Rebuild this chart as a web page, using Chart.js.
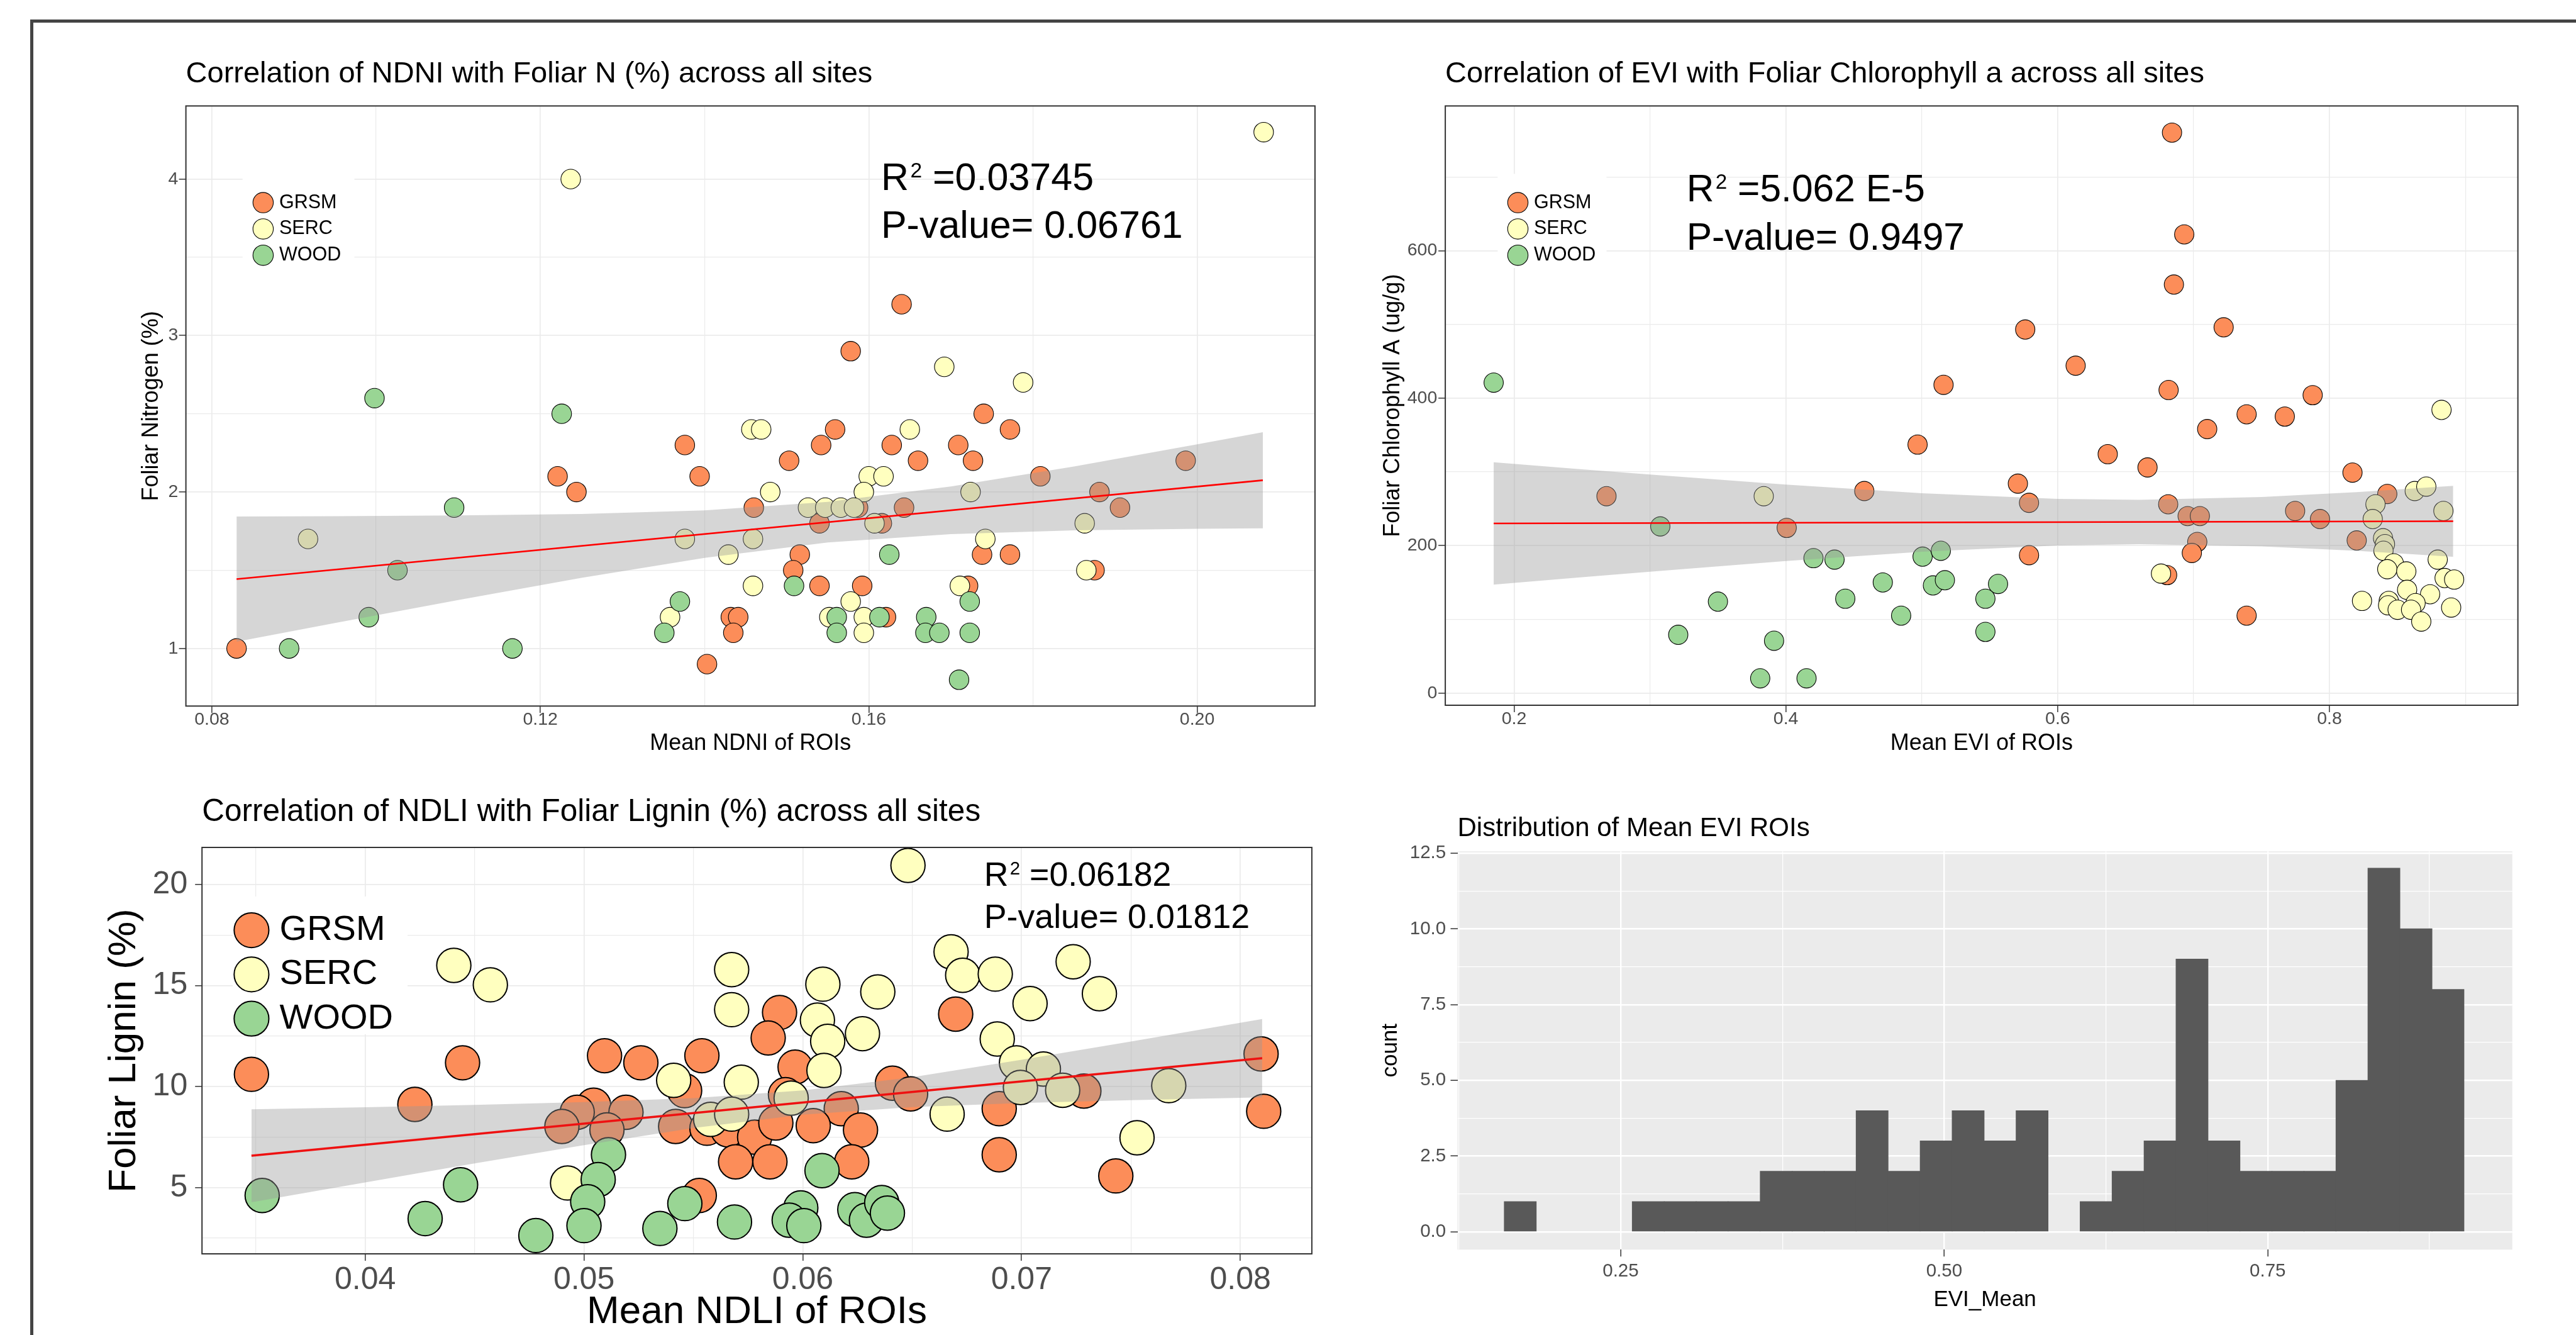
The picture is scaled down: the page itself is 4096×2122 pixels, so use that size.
<!DOCTYPE html>
<html lang="en">
<head>
<meta charset="utf-8">
<title>Foliar traits vs spectral indices</title>
<script src="https://cdn.jsdelivr.net/npm/chart.js@4.4.1/dist/chart.umd.min.js"></script>
<style>
	html, body { margin: 0; padding: 0; background: #fff; overflow: hidden; }
	#page { position: relative; width: 4096px; height: 2122px; overflow: hidden; background: #fff; }
	#frame { position: absolute; left: 48px; top: 31px; width: 4100px; height: 2150px; border-left: 5px solid #444; border-top: 5px solid #444; }
	#page canvas { position: absolute; }
</style>
</head>
<body>
<div id="page">
	<div id="frame"></div>
	<canvas id="ndni_canvas" width="1880" height="1114" style="left:219px;top:90px;width:1880px;height:1114px"></canvas>
	<canvas id="evi_canvas" width="1819" height="1114" style="left:2193px;top:90px;width:1819px;height:1114px"></canvas>
	<canvas id="ndli_canvas" width="1933" height="855" style="left:161px;top:1262px;width:1933px;height:855px"></canvas>
	<canvas id="hist_canvas" width="1813" height="795" style="left:2190px;top:1292px;width:1813px;height:795px"></canvas>
</div>
<script>
const FONT = '"Liberation Sans", Arial, Helvetica, sans-serif';
Chart.defaults.font.family = FONT;

const sites = ['GRSM', 'SERC', 'WOOD'];
const site_colors = ['#FC8D59', '#FFFFBF', '#99D594'];

// NDNI vs foliar N
const ndni_grsm_x = [0.0830, 0.1221, 0.1244, 0.1376, 0.1394, 0.1460, 0.1432, 0.1441, 0.1435, 0.1403, 0.1640, 0.1578, 0.1740, 0.1559, 0.1772, 0.1542, 0.1628, 0.1709, 0.1503, 0.1660, 0.1727, 0.1986, 0.1809, 0.1881, 0.1587, 0.1643, 0.1906, 0.1540, 0.1616, 0.1516, 0.1738, 0.1772, 0.1508, 0.1875, 0.1540, 0.1592, 0.1721, 0.1621];
const ndni_grsm_y = [1.0, 2.1, 2.0, 2.3, 2.1, 1.9, 1.2, 1.2, 1.1, 0.9, 3.2, 2.9, 2.5, 2.4, 2.4, 2.3, 2.3, 2.3, 2.2, 2.2, 2.2, 2.2, 2.1, 2.0, 1.9, 1.9, 1.9, 1.8, 1.8, 1.6, 1.6, 1.6, 1.5, 1.5, 1.4, 1.4, 1.4, 1.2];
const ndni_serc_x = [0.1237, 0.1457, 0.1469, 0.1480, 0.0917, 0.1376, 0.1459, 0.1429, 0.1459, 0.1358, 0.2081, 0.1692, 0.1788, 0.1650, 0.1600, 0.1618, 0.1594, 0.1724, 0.1526, 0.1547, 0.1566, 0.1582, 0.1607, 0.1863, 0.1742, 0.1865, 0.1711, 0.1578, 0.1552, 0.1594, 0.1594];
const ndni_serc_y = [4.0, 2.4, 2.4, 2.0, 1.7, 1.7, 1.7, 1.6, 1.4, 1.2, 4.3, 2.8, 2.7, 2.4, 2.1, 2.1, 2.0, 2.0, 1.9, 1.9, 1.9, 1.9, 1.8, 1.8, 1.7, 1.5, 1.4, 1.3, 1.2, 1.2, 1.1];
const ndni_wood_x = [0.0998, 0.1226, 0.1095, 0.1026, 0.1370, 0.0991, 0.1351, 0.0894, 0.1166, 0.1625, 0.1509, 0.1723, 0.1561, 0.1613, 0.1670, 0.1561, 0.1669, 0.1686, 0.1723, 0.1710];
const ndni_wood_y = [2.6, 2.5, 1.9, 1.5, 1.3, 1.2, 1.1, 1.0, 1.0, 1.6, 1.4, 1.3, 1.2, 1.2, 1.2, 1.1, 1.1, 1.1, 1.1, 0.8];
const ndni_fit_x = [0.083, 0.208];
const ndni_fit_y = [1.443, 2.075];
const ndni_band_x = [0.083, 0.095, 0.11, 0.125, 0.14, 0.155, 0.17, 0.185, 0.2, 0.208];
const ndni_band_hi = [1.843, 1.845, 1.850, 1.859, 1.883, 1.937, 2.035, 2.163, 2.305, 2.382];
const ndni_band_lo = [1.043, 1.163, 1.310, 1.451, 1.579, 1.677, 1.731, 1.755, 1.765, 1.768];
const ndni_x_ticks = [0.08, 0.10, 0.12, 0.14, 0.16, 0.18, 0.20];
const ndni_x_major = [0.08, 0.12, 0.16, 0.20];
const ndni_x_labels = ['0.08', '0.12', '0.16', '0.20'];
const ndni_y_ticks = [1, 1.5, 2, 2.5, 3, 3.5, 4];
const ndni_y_major = [1, 2, 3, 4];
const ndni_y_labels = ['1', '2', '3', '4'];

// EVI vs foliar chlorophyll a
const evi_grsm_x = [0.268, 0.4006, 0.4577, 0.4969, 0.516, 0.6841, 0.6931, 0.6855, 0.5761, 0.7221, 0.6132, 0.6816, 0.7876, 0.739, 0.7671, 0.71, 0.6368, 0.6661, 0.8169, 0.5707, 0.8425, 0.5789, 0.6813, 0.7747, 0.6956, 0.7046, 0.793, 0.82, 0.7027, 0.6987, 0.5789, 0.6805, 0.739];
const evi_grsm_y = [267, 224, 274, 337, 418, 760, 622, 554, 493, 496, 444, 411, 404, 378, 375, 358, 324, 306, 299, 284, 270, 258, 256, 247, 240, 240, 236, 207, 205, 190, 187, 160, 105];
const evi_serc_x = [0.3837, 0.8824, 0.8627, 0.8712, 0.8338, 0.8838, 0.8318, 0.8394, 0.8408, 0.8397, 0.8473, 0.8796, 0.8425, 0.8565, 0.676, 0.8847, 0.8917, 0.8571, 0.874, 0.8239, 0.8436, 0.8633, 0.8431, 0.8501, 0.86, 0.8675, 0.8895];
const evi_serc_y = [267, 384, 274, 280, 256, 247, 236, 210, 202, 193, 176, 181, 168, 165, 162, 156, 154, 140, 134, 125, 125, 122, 119, 113, 113, 97, 116];
const evi_wood_x = [0.185, 0.3076, 0.4203, 0.4358, 0.5006, 0.514, 0.35, 0.4437, 0.4713, 0.4848, 0.5082, 0.517, 0.3208, 0.3913, 0.3811, 0.4152, 0.5561, 0.5468, 0.5468];
const evi_wood_y = [421, 226, 183, 181, 185, 193, 124, 128, 150, 105, 146, 153, 79, 71, 20, 20, 148, 128, 83];
const evi_fit_x = [0.185, 0.891];
const evi_fit_y = [230, 233];
const evi_band_x = [0.185, 0.25, 0.3, 0.4, 0.5, 0.6, 0.66, 0.75, 0.82, 0.891];
const evi_band_hi = [313.0, 303.5, 296.4, 282.8, 271.0, 263.4, 262.0, 265.8, 272.4, 281.1];
const evi_band_lo = [147.0, 157.1, 164.6, 179.0, 191.6, 200.2, 202.0, 199.0, 193.0, 184.9];
const evi_x_ticks = [0.2, 0.3, 0.4, 0.5, 0.6, 0.7, 0.8, 0.9];
const evi_x_major = [0.2, 0.4, 0.6, 0.8];
const evi_x_labels = ['0.2', '0.4', '0.6', '0.8'];
const evi_y_ticks = [0, 100, 200, 300, 400, 500, 600, 700];
const evi_y_major = [0, 200, 400, 600];
const evi_y_labels = ['0', '200', '400', '600'];

// NDLI vs foliar lignin
const ndli_grsm_x = [0.0348, 0.04445, 0.04227, 0.05094, 0.0526, 0.05539, 0.05044, 0.04969, 0.05192, 0.04899, 0.05105, 0.0546, 0.05527, 0.05419, 0.05562, 0.05658, 0.0578, 0.05693, 0.0585, 0.05894, 0.05842, 0.06699, 0.05965, 0.0641, 0.06493, 0.05921, 0.06176, 0.06048, 0.06264, 0.05877, 0.06224, 0.06898, 0.07285, 0.08095, 0.08107, 0.06898, 0.07431];
const ndli_grsm_y = [10.61, 11.18, 9.12, 11.53, 11.18, 11.53, 9.08, 8.73, 8.73, 8.03, 7.86, 9.8, 4.61, 8.03, 7.94, 7.86, 7.5, 6.28, 6.28, 13.67, 12.41, 13.59, 10.97, 10.17, 9.64, 9.6, 8.91, 8.07, 7.85, 8.2, 6.28, 8.91, 9.78, 11.62, 8.78, 6.63, 5.58];
const ndli_serc_x = [0.04405, 0.04572, 0.0541, 0.05675, 0.05675, 0.05719, 0.04925, 0.05579, 0.05675, 0.06481, 0.06678, 0.06731, 0.0688, 0.07236, 0.07356, 0.07039, 0.06092, 0.06343, 0.06067, 0.06114, 0.06273, 0.06097, 0.06889, 0.05947, 0.0666, 0.06977, 0.071, 0.06995, 0.07188, 0.07673, 0.07528];
const ndli_serc_y = [16.0, 15.04, 10.31, 15.79, 13.81, 10.22, 5.23, 8.38, 8.64, 20.95, 16.67, 15.51, 15.57, 16.18, 14.6, 14.11, 15.07, 14.69, 13.29, 12.24, 12.62, 10.8, 12.36, 9.43, 8.64, 11.18, 10.87, 9.96, 9.82, 10.05, 7.47];
const ndli_wood_x = [0.03529, 0.04436, 0.04274, 0.0478, 0.05112, 0.05065, 0.05017, 0.05, 0.05461, 0.05347, 0.05688, 0.06088, 0.05991, 0.05938, 0.06005, 0.06238, 0.06291, 0.06361, 0.06387];
const ndli_wood_y = [4.61, 5.14, 3.47, 2.63, 6.63, 5.4, 4.3, 3.12, 4.21, 2.98, 3.3, 5.84, 4.0, 3.39, 3.12, 3.91, 3.39, 4.26, 3.74];
const ndli_fit_x = [0.0348, 0.081];
const ndli_fit_y = [6.58, 11.41];
const ndli_band_x = [0.0348, 0.04, 0.045, 0.05, 0.055, 0.06, 0.065, 0.07, 0.075, 0.081];
const ndli_band_hi = [8.88, 8.98, 9.10, 9.24, 9.43, 9.81, 10.47, 11.33, 12.23, 13.35];
const ndli_band_lo = [4.28, 5.26, 6.20, 7.10, 7.95, 8.61, 8.99, 9.19, 9.33, 9.47];
const ndli_x_ticks = [0.035, 0.04, 0.045, 0.05, 0.055, 0.06, 0.065, 0.07, 0.075, 0.08];
const ndli_x_major = [0.04, 0.05, 0.06, 0.07, 0.08];
const ndli_x_labels = ['0.04', '0.05', '0.06', '0.07', '0.08'];
const ndli_y_ticks = [2.5, 5, 7.5, 10, 12.5, 15, 17.5, 20];
const ndli_y_major = [5, 10, 15, 20];
const ndli_y_labels = ['5', '10', '15', '20'];

// histogram of mean EVI
const evi_bin_mid = [0.1724, 0.1971, 0.2218, 0.2466, 0.2713, 0.2960, 0.3207, 0.3454, 0.3702, 0.3949, 0.4196, 0.4443, 0.4690, 0.4938, 0.5185, 0.5432, 0.5679, 0.5926, 0.6174, 0.6421, 0.6668, 0.6915, 0.7162, 0.7410, 0.7657, 0.7904, 0.8151, 0.8398, 0.8646, 0.8893];
const evi_bin_count = [1, 0, 0, 0, 1, 1, 1, 1, 2, 2, 2, 4, 2, 3, 4, 3, 4, 0, 1, 2, 3, 9, 3, 2, 2, 2, 5, 12, 10, 8];
const hist_x_ticks = [0.125, 0.25, 0.375, 0.5, 0.625, 0.75, 0.875];
const hist_x_major = [0.25, 0.5, 0.75];
const hist_x_labels = ['0.25', '0.50', '0.75'];
const hist_y_ticks = [0, 1.25, 2.5, 3.75, 5, 6.25, 7.5, 8.75, 10, 11.25, 12.5];
const hist_y_major = [0, 2.5, 5, 7.5, 10, 12.5];
const hist_y_labels = ['0.0', '2.5', '5.0', '7.5', '10.0', '12.5'];

const pts = (xs, ys) => xs.map((x, i) => ({ x: x, y: ys[i] }));

const panel_box = {
	id: 'panel_box',
	beforeDraw(chart, args, o) {
		if (!o.fill) return;
		const a = chart.chartArea;
		chart.ctx.save();
		chart.ctx.fillStyle = o.fill;
		chart.ctx.fillRect(a.left, a.top, a.right - a.left, a.bottom - a.top);
		chart.ctx.restore();
	},
	afterDraw(chart, args, o) {
		if (!o.stroke) return;
		const a = chart.chartArea;
		chart.ctx.save();
		chart.ctx.strokeStyle = '#333333';
		chart.ctx.lineWidth = 2;
		chart.ctx.strokeRect(a.left, a.top, a.right - a.left, a.bottom - a.top);
		chart.ctx.restore();
	}
};

const site_legend = {
	id: 'site_legend',
	afterDatasetsDraw(chart, args, o) {
		if (!o.show) return;
		const ctx = chart.ctx, a = chart.chartArea;
		ctx.save();
		ctx.fillStyle = '#fff';
		ctx.fillRect(a.left + o.box[0], a.top + o.box[1], o.box[2], o.box[3]);
		chart.data.datasets.slice(0, 3).forEach((ds, i) => {
			const cy = a.top + o.y + i * o.dy;
			ctx.beginPath();
			ctx.arc(a.left + o.x, cy, o.r, 0, Math.PI * 2);
			ctx.fillStyle = ds.backgroundColor;
			ctx.fill();
			ctx.lineWidth = o.bw;
			ctx.strokeStyle = '#000';
			ctx.stroke();
			ctx.fillStyle = '#000';
			ctx.font = o.size + 'px ' + FONT;
			ctx.textAlign = 'left';
			ctx.textBaseline = 'middle';
			ctx.fillText(ds.label, a.left + o.tx, cy);
		});
		ctx.restore();
	}
};

const stat_text = {
	id: 'stat_text',
	afterDatasetsDraw(chart, args, o) {
		if (!o.show) return;
		const ctx = chart.ctx, a = chart.chartArea;
		let x = a.left + o.x;
		const y1 = a.top + o.y1;
		ctx.save();
		ctx.fillStyle = '#000';
		ctx.textAlign = 'left';
		ctx.textBaseline = 'alphabetic';
		ctx.font = o.size + 'px ' + FONT;
		ctx.fillText('R', x, y1);
		x += ctx.measureText('R').width + o.size * 0.04;
		ctx.font = (o.size * 0.55) + 'px ' + FONT;
		ctx.fillText('2', x, y1 - o.size * 0.33);
		x += ctx.measureText('2').width;
		ctx.font = o.size + 'px ' + FONT;
		ctx.fillText(' =' + o.r2, x, y1);
		ctx.fillText('P-value= ' + o.p, a.left + o.x, a.top + o.y2);
		ctx.restore();
	}
};

function make_axis(o) {
	const is_major = c => c.tick && o.major.includes(c.tick.value);
	return {
		type: 'linear',
		min: o.range[0],
		max: o.range[1],
		offset: false,
		afterBuildTicks: s => { s.ticks = o.ticks.map(v => ({ value: v })); },
		afterFit: s => { if (o.axis === 'x') s.height = o.size; else s.width = o.size; },
		ticks: {
			autoSkip: false, maxRotation: 0, minRotation: 0,
			padding: o.pad, color: '#4D4D4D',
			font: { family: FONT, size: o.tick_size },
			callback: v => { const i = o.major.indexOf(v); return i < 0 ? '' : o.labels[i]; }
		},
		grid: {
			offset: false,
			color: o.grid_color,
			lineWidth: c => is_major(c) ? o.major_w : o.minor_w,
			tickColor: c => is_major(c) ? '#333333' : 'rgba(0,0,0,0)',
			tickLength: o.tick_len,
			tickWidth: 1.5
		},
		border: { display: false },
		title: {
			display: true, text: o.title, color: '#000', padding: 0,
			font: { family: FONT, size: o.title_size, lineHeight: o.title_lh || 1.2 }
		}
	};
}

function scatter_chart(id, o) {
	const sets = [o.grsm, o.serc, o.wood].map((p, i) => ({
		type: 'scatter',
		label: sites[i],
		data: pts(p[0], p[1]),
		backgroundColor: site_colors[i],
		pointBackgroundColor: site_colors[i],
		pointBorderColor: '#000',
		pointBorderWidth: o.bw,
		pointRadius: o.r,
		pointHoverRadius: o.r,
		order: 5 - i
	}));
	sets.push({
		type: 'line', label: 'band_hi', data: pts(o.band[0], o.band[1]),
		showLine: true, borderWidth: 0, borderColor: 'rgba(0,0,0,0)', pointRadius: 0,
		fill: '+1', backgroundColor: 'rgba(153,153,153,0.4)', order: 2
	});
	sets.push({
		type: 'line', label: 'band_lo', data: pts(o.band[0], o.band[2]),
		showLine: true, borderWidth: 0, borderColor: 'rgba(0,0,0,0)', pointRadius: 0,
		fill: false, order: 2
	});
	sets.push({
		type: 'line', label: 'fit', data: pts(o.fit[0], o.fit[1]),
		showLine: true, borderColor: o.line_color, borderWidth: o.line_w, pointRadius: 0,
		fill: false, order: 1
	});
	return new Chart(document.getElementById(id), {
		type: 'scatter',
		data: { datasets: sets },
		options: {
			responsive: false, animation: false, events: [],
			layout: { padding: { left: 0, top: 0, right: o.pad_r, bottom: 0 }, autoPadding: false },
			scales: { x: make_axis(o.x), y: make_axis(o.y) },
			plugins: {
				legend: { display: false },
				tooltip: { enabled: false },
				title: {
					display: true, text: o.title, align: 'start', fullSize: false, color: '#000',
					font: { family: FONT, size: o.title_size, weight: 'normal' },
					padding: { top: 0, bottom: o.title_gap }
				},
				panel_box: { stroke: true },
				site_legend: o.legend,
				stat_text: o.stat
			}
		},
		plugins: [panel_box, site_legend, stat_text]
	});
}

scatter_chart('ndni_canvas', {
	grsm: [ndni_grsm_x, ndni_grsm_y], serc: [ndni_serc_x, ndni_serc_y], wood: [ndni_wood_x, ndni_wood_y],
	band: [ndni_band_x, ndni_band_hi, ndni_band_lo], fit: [ndni_fit_x, ndni_fit_y],
	r: 15.6, bw: 1.1, line_w: 2.6, line_color: '#FF0000',
	pad_r: 8.1,
	title: 'Correlation of NDNI with Foliar N (%) across all sites', title_size: 47, title_gap: 22.0,
	x: { axis: 'x', range: [0.07683, 0.21435], ticks: ndni_x_ticks, major: ndni_x_major, labels: ndni_x_labels,
		size: 81.7, pad: -6, tick_size: 28.5, tick_len: 11, grid_color: '#EBEBEB', major_w: 1.7, minor_w: 1.2,
		title: 'Mean NDNI of ROIs', title_size: 36 },
	y: { axis: 'y', range: [0.6318, 4.4674], ticks: ndni_y_ticks, major: ndni_y_major, labels: ndni_y_labels,
		size: 76.6, pad: 1.2, tick_size: 28.5, tick_len: 11, grid_color: '#EBEBEB', major_w: 1.7, minor_w: 1.2,
		title: 'Foliar Nitrogen (%)', title_size: 36 },
	legend: { show: true, box: [90.1, 108, 177.8, 149.6], x: 122.8, y: 153.7, dy: 41.8, r: 16.2, bw: 1.1, tx: 148.4, size: 30.5 },
	stat: { show: true, x: 1105.3, y1: 133.7, y2: 209.9, size: 61, r2: '0.03745', p: '0.06761' }
});

scatter_chart('evi_canvas', {
	grsm: [evi_grsm_x, evi_grsm_y], serc: [evi_serc_x, evi_serc_y], wood: [evi_wood_x, evi_wood_y],
	band: [evi_band_x, evi_band_hi, evi_band_lo], fit: [evi_fit_x, evi_fit_y],
	r: 15.4, bw: 1.1, line_w: 2.6, line_color: '#FF0000',
	pad_r: 8.4,
	title: 'Correlation of EVI with Foliar Chlorophyll a across all sites', title_size: 47, title_gap: 22.0,
	x: { axis: 'x', range: [0.1494, 0.9386], ticks: evi_x_ticks, major: evi_x_major, labels: evi_x_labels,
		size: 83, pad: -6, tick_size: 28.5, tick_len: 11, grid_color: '#EBEBEB', major_w: 1.7, minor_w: 1.2,
		title: 'Mean EVI of ROIs', title_size: 36 },
	y: { axis: 'y', range: [-16.5, 796.2], ticks: evi_y_ticks, major: evi_y_major, labels: evi_y_labels,
		size: 105.1, pad: 1.8, tick_size: 28.5, tick_len: 11, grid_color: '#EBEBEB', major_w: 1.7, minor_w: 1.2,
		title: 'Foliar Chlorophyll A (ug/g)', title_size: 36 },
	legend: { show: true, box: [83.2, 108, 173.2, 149.6], x: 115.4, y: 153.7, dy: 41.8, r: 16.2, bw: 1.1, tx: 140.9, size: 30.5 },
	stat: { show: true, x: 383.6, y1: 151.8, y2: 228.6, size: 60.5, r2: '5.062 E-5', p: '0.9497' }
});

scatter_chart('ndli_canvas', {
	grsm: [ndli_grsm_x, ndli_grsm_y], serc: [ndli_serc_x, ndli_serc_y], wood: [ndli_wood_x, ndli_wood_y],
	band: [ndli_band_x, ndli_band_hi, ndli_band_lo], fit: [ndli_fit_x, ndli_fit_y],
	r: 27.2, bw: 2, line_w: 3.4, line_color: '#EE1111',
	pad_r: 8.1,
	title: 'Correlation of NDLI with Foliar Lignin (%) across all sites', title_size: 49.5, title_gap: 25.6,
	x: { axis: 'x', range: [0.03254, 0.08327], ticks: ndli_x_ticks, major: ndli_x_major, labels: ndli_x_labels,
		size: 124, pad: 1.4, tick_size: 50, tick_len: 11, grid_color: '#EBEBEB', major_w: 1.7, minor_w: 1.2,
		title: 'Mean NDLI of ROIs', title_size: 62, title_lh: 1 },
	y: { axis: 'y', range: [1.724, 21.84], ticks: ndli_y_ticks, major: ndli_y_major, labels: ndli_y_labels,
		size: 160.2, pad: 12, tick_size: 50, tick_len: 11, grid_color: '#EBEBEB', major_w: 1.7, minor_w: 1.2,
		title: 'Foliar Lignin (%)', title_size: 62 },
	legend: { show: true, box: [48.8, 78, 278, 219], x: 78.7, y: 131.6, dy: 70.3, r: 27.6, bw: 2, tx: 123.4, size: 56 },
	stat: { show: true, x: 1243.6, y1: 60.8, y2: 128.2, size: 53.7, r2: '0.06182', p: '0.01812' }
});

new Chart(document.getElementById('hist_canvas'), {
	type: 'bar',
	data: {
		datasets: [{
			label: 'count',
			data: pts(evi_bin_mid, evi_bin_count),
			backgroundColor: '#595959',
			borderWidth: 0,
			barPercentage: 1,
			categoryPercentage: 1,
			inflateAmount: c => (c.raw && c.raw.y > 0 ? 0.5 : 0)
		}]
	},
	options: {
		responsive: false, animation: false, events: [],
		layout: { padding: { left: 0, top: 0, right: 8.3, bottom: 0 }, autoPadding: false },
		scales: {
			x: make_axis({ axis: 'x', range: [0.1239, 0.939], ticks: hist_x_ticks, major: hist_x_major, labels: hist_x_labels,
				size: 100.7, pad: 5.6, tick_size: 29.5, tick_len: 11, grid_color: '#FFFFFF', major_w: 2.4, minor_w: 1.2,
				title: 'EVI_Mean', title_size: 35 }),
			y: make_axis({ axis: 'y', range: [-0.586, 12.557], ticks: hist_y_ticks, major: hist_y_major, labels: hist_y_labels,
				size: 127.5, pad: 7.3, tick_size: 29.5, tick_len: 11, grid_color: '#FFFFFF', major_w: 2.4, minor_w: 1.2,
				title: 'count', title_size: 35 })
		},
		plugins: {
			legend: { display: false },
			tooltip: { enabled: false },
			title: {
				display: true, text: 'Distribution of Mean EVI ROIs', align: 'start', fullSize: false, color: '#000',
				font: { family: FONT, size: 42, weight: 'normal' },
				padding: { top: 0, bottom: 10.8 }
			},
			panel_box: { fill: '#EBEBEB' }
		}
	},
	plugins: [panel_box]
});
</script>
</body>
</html>
